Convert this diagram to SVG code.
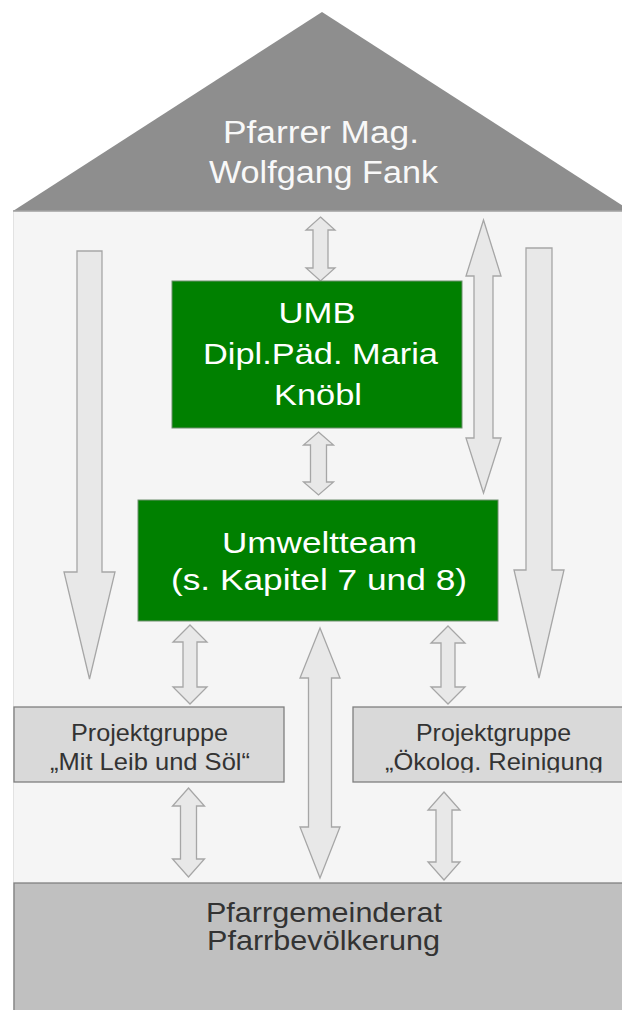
<svg xmlns="http://www.w3.org/2000/svg" width="622" height="1010" viewBox="0 0 622 1010">
  <style>
    .t { font-family: "Liberation Sans", Arial, sans-serif; text-anchor: middle; }
    .roofText { fill: #f8f8f8; font-size: 31px; }
    .greenText { fill: #ffffff; font-size: 29.5px; }
    .grpText { fill: #333333; font-size: 24px; }
    .baseText { fill: #333333; font-size: 28px; }
    .arrow { fill: #e8e8e8; stroke: #a6a6a6; stroke-width: 1.3; stroke-linejoin: miter; }
    .green { fill: #008000; stroke: #6f8f6f; stroke-width: 1; }
    .grp { fill: #d9d9d9; stroke: #7f7f7f; stroke-width: 1.3; }
  </style>
  <defs>
    <clipPath id="clipOeko">
      <rect x="353" y="707" width="269" height="65.5"/>
    </clipPath>
  </defs>
  <rect width="622" height="1010" fill="#ffffff"/>
  <!-- house wall -->
  <rect id="wall" x="13.5" y="211" width="620" height="810" fill="#f5f5f5" stroke="#e2e2e2" stroke-width="1"/>

  <g id="roof">
    <polygon points="322,12 631,211 13,211" fill="#8e8e8e"/>
    <line x1="13" y1="211" x2="622" y2="211" stroke="#a2a2a2" stroke-width="1.5"/>
    <text class="t roofText" x="321" y="143" textLength="196" lengthAdjust="spacingAndGlyphs">Pfarrer Mag.</text>
    <text class="t roofText" x="323.5" y="183" textLength="229" lengthAdjust="spacingAndGlyphs">Wolfgang Fank</text>
  </g>

  <g id="connectors">
    <polygon class="arrow" points="77,251 102,251 102,572 115,572 89.5,679 64,572 77,572 "/>
    <polygon class="arrow" points="526,248 552,248 552,570 564,570 539,678 514,570 526,570"/>
    <polygon class="arrow" points="483.5,220 501,276 493,276 493,438 501,438 483.5,493 466,438 474,438 474,276 466,276"/>
    <polygon class="arrow" points="320.5,217 335,230 328,230 328,268 335,268 320.5,281 306,268 313,268 313,230 306,230"/>
    <polygon class="arrow" points="318.5,432 333.5,445 326.5,445 326.5,482 333.5,482 318.5,495 303.5,482 310.5,482 310.5,445 303.5,445"/>
    <polygon class="arrow" points="190,625 207,642 197,642 197,687 207,687 190,704 173,687 183,687 183,642 173,642"/>
    <polygon class="arrow" points="448,626 465,643 455,643 455,687 465,687 448,704 431,687 441,687 441,643 431,643"/>
    <polygon class="arrow" points="320,628 340,678 331.5,678 331.5,827 340,827 320,878 300,827 308.5,827 308.5,678 300,678"/>
    <polygon class="arrow" points="188.5,788 204.5,806 196.5,806 196.5,859 204.5,859 188.5,877 172.5,859 180.5,859 180.5,806 172.5,806"/>
    <polygon class="arrow" points="444,792 460,810 452,810 452,862 460,862 444,880 428,862 436,862 436,810 428,810"/>
  </g>

  <g id="umb">
    <rect class="green" x="172" y="281" width="290" height="147"/>
    <text class="t greenText" x="317" y="323" textLength="77" lengthAdjust="spacingAndGlyphs">UMB</text>
    <text class="t greenText" x="320.5" y="364" textLength="235" lengthAdjust="spacingAndGlyphs">Dipl.Päd. Maria</text>
    <text class="t greenText" x="318" y="405" textLength="88" lengthAdjust="spacingAndGlyphs">Knöbl</text>
  </g>

  <g id="umweltteam">
    <rect class="green" x="138" y="500" width="360" height="121"/>
    <text class="t greenText" x="319.5" y="553" textLength="195" lengthAdjust="spacingAndGlyphs">Umweltteam</text>
    <text class="t greenText" x="319" y="590" textLength="296" lengthAdjust="spacingAndGlyphs">(s. Kapitel 7 und 8)</text>
  </g>

  <g id="pg-leib">
    <rect class="grp" x="14" y="707" width="270" height="75"/>
    <text class="t grpText" x="149.5" y="741" textLength="157" lengthAdjust="spacingAndGlyphs">Projektgruppe</text>
    <text class="t grpText" x="150" y="770" textLength="200" lengthAdjust="spacingAndGlyphs">„Mit Leib und Söl“</text>
  </g>

  <g id="pg-oeko">
    <rect class="grp" x="353" y="707" width="290" height="75"/>
    <text class="t grpText" x="493.5" y="741" textLength="155" lengthAdjust="spacingAndGlyphs">Projektgruppe</text>
    <text class="t grpText" x="494" y="770" textLength="218" lengthAdjust="spacingAndGlyphs" clip-path="url(#clipOeko)">„Ökolog. Reinigung</text>
  </g>

  <g id="pfarrgemeinde">
    <rect x="14" y="883" width="630" height="140" fill="#c0c0c0" stroke="#808080" stroke-width="1.3"/>
    <text class="t baseText" x="324" y="922" textLength="236" lengthAdjust="spacingAndGlyphs">Pfarrgemeinderat</text>
    <text class="t baseText" x="323.5" y="950" textLength="233" lengthAdjust="spacingAndGlyphs">Pfarrbevölkerung</text>
  </g>
</svg>
